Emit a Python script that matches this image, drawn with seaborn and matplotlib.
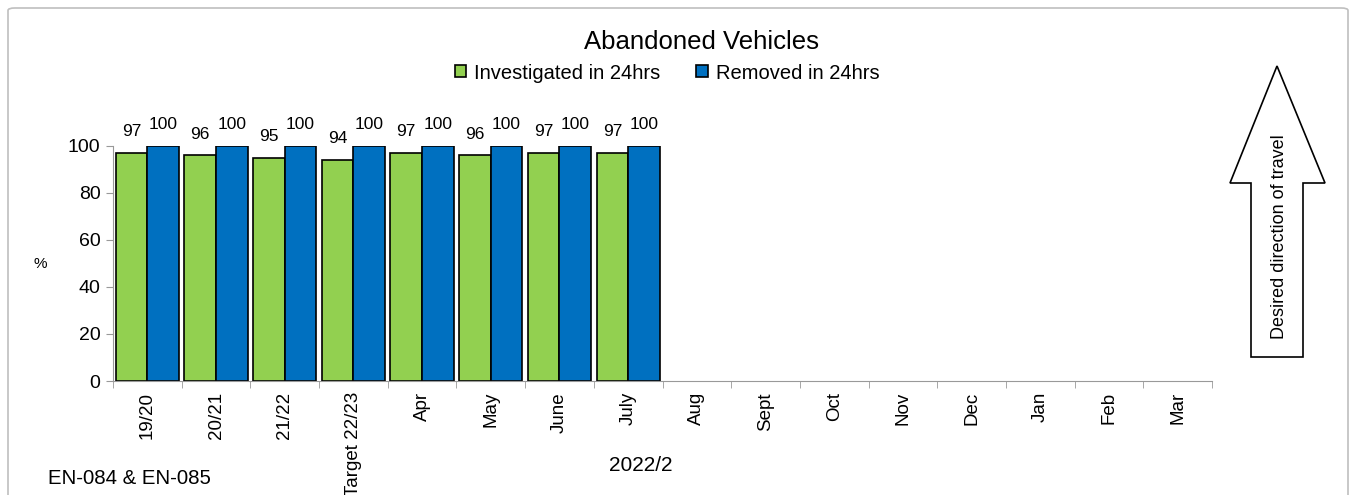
import numpy as np
import pandas as pd
import seaborn as sns
import matplotlib.pyplot as plt
from matplotlib.patches import Polygon, FancyBboxPatch

# chart data
categories = ['19/20', '20/21', '21/22', 'Target 22/23', 'Apr', 'May', 'June', 'July',
              'Aug', 'Sept', 'Oct', 'Nov', 'Dec', 'Jan', 'Feb', 'Mar']
investigated = [97, 96, 95, 94, 97, 96, 97, 97] + [np.nan] * 8
removed = [100, 100, 100, 100, 100, 100, 100, 100] + [np.nan] * 8
series_names = ['Investigated in 24hrs', 'Removed in 24hrs']
series_colors = ['#92D050', '#0070C0']

sns.set_style('white')
plt.rcParams['font.family'] = ['Liberation Sans', 'DejaVu Sans']
plt.rcParams['text.color'] = 'black'
plt.rcParams['axes.labelcolor'] = 'black'
plt.rcParams['xtick.color'] = 'black'
plt.rcParams['ytick.color'] = 'black'

df = pd.DataFrame({
    'month': categories * 2,
    'series': [series_names[0]] * len(categories) + [series_names[1]] * len(categories),
    'value': investigated + removed,
})

fig = plt.figure(figsize=(13.56, 4.95), dpi=100)
ax = fig.add_axes([113 / 1356, 1 - 381 / 495, 1099 / 1356, 235 / 495])

sns.barplot(data=df, x='month', y='value', hue='series', order=categories,
            hue_order=series_names, palette=series_colors, width=0.92,
            edgecolor='black', linewidth=1.2, saturation=1, ax=ax, legend=True)

# value labels above bars
for cont in ax.containers:
    labels = ['' if np.isnan(b.get_height()) else f'{b.get_height():.0f}' for b in cont]
    ax.bar_label(cont, labels=labels, padding=10, fontsize=12.5)

ax.set_xlim(-0.5, len(categories) - 0.5)
ax.set_ylim(0, 100)
ax.set_yticks(range(0, 101, 20))
ax.tick_params(axis='y', labelsize=14, length=5, color='#999999', labelcolor='black',
               left=True, pad=4)
ax.set_xticks(range(len(categories)))
ax.set_xticklabels(categories, rotation=90, fontsize=13.5)
ax.set_xticks(np.arange(-0.5, len(categories), 1), minor=True)
ax.tick_params(axis='x', which='major', length=0, pad=8, labelcolor='black')
ax.tick_params(axis='x', which='minor', length=5, color='#999999', bottom=True)

sns.despine(ax=ax, top=True, right=True)
for side in ['left', 'bottom']:
    ax.spines[side].set_color('#999999')

ax.set_ylabel('%', rotation=0, fontsize=11)
ax.yaxis.set_label_coords(-0.066, 0.47)
ax.set_xlabel('2022/2', fontsize=15)
ax.xaxis.set_label_coords(0.48, -0.32)

# legend
handles, lbls = ax.get_legend_handles_labels()
ax.legend_.remove()
fig.legend(handles, lbls, loc='center', bbox_to_anchor=(667 / 1356, 1 - 73 / 495), ncol=2,
           frameon=False, fontsize=14.5, handlelength=0.55, handleheight=0.55,
           handletextpad=0.4, columnspacing=1.8)

fig.text(701 / 1356, 1 - 42 / 495, 'Abandoned Vehicles', ha='center', va='center', fontsize=18.5)
fig.text(48 / 1356, 1 - 478 / 495, 'EN-084 & EN-085', ha='left', va='center', fontsize=14.7)

# desired direction arrow
pts = [(1277, 66), (1325, 183), (1303, 183), (1303, 357), (1251, 357), (1251, 183), (1230, 183)]
arrow = Polygon([(x / 1356, 1 - y / 495) for x, y in pts], closed=True,
                facecolor='white', edgecolor='black', linewidth=1.2,
                transform=fig.transFigure)
fig.add_artist(arrow)
fig.text(1279 / 1356, 1 - 237 / 495, 'Desired direction of travel', rotation=90,
         ha='center', va='center', fontsize=13)

# outer chart border
border = FancyBboxPatch((8 / 1356, -0.02), 1340 / 1356, 1 - 8 / 495 + 0.02,
                        boxstyle='round,pad=0,rounding_size=0.005',
                        facecolor='none', edgecolor='#BFBFBF', linewidth=1.2,
                        transform=fig.transFigure)
fig.add_artist(border)

fig.savefig('out.png', dpi=100)
